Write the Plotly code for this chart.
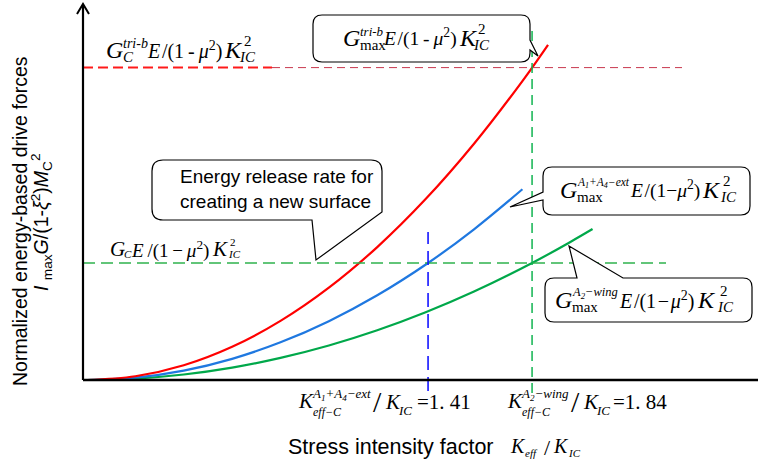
import plotly.graph_objects as go

# ---- curves: normalized energy-based drive force vs K_eff/K_IC ----
k_tri_b = [0.0, 0.2, 0.4, 0.6, 0.8, 1.0, 1.2, 1.4, 1.6, 1.8, 1.906]
g_tri_b = [0.0, 0.032, 0.126, 0.284, 0.505, 0.789, 1.136, 1.546, 2.019, 2.555, 2.865]

k_ext = [0.0, 0.2, 0.4, 0.6, 0.8, 1.0, 1.2, 1.41, 1.6, 1.8]
g_ext = [0.0, 0.020, 0.080, 0.181, 0.322, 0.503, 0.724, 1.0, 1.288, 1.630]

k_wing = [0.0, 0.2, 0.4, 0.6, 0.8, 1.0, 1.2, 1.4, 1.6, 1.84, 2.0, 2.09]
g_wing = [0.0, 0.012, 0.047, 0.106, 0.189, 0.295, 0.425, 0.579, 0.756, 1.0, 1.182, 1.29]

# reference levels and critical stress intensity ratios
G_C_LEVEL = 1.0
G_TRI_B_LEVEL = 2.67
K_EXT_C = 1.41
K_WING_C = 1.84
K_EXT_LABEL = "1. 41"
K_WING_LABEL = "1. 84"

# ---- page geometry (pixels) ----
W, H = 758, 469
PL, PR, PT, PB = 83, 758, 5, 380
X_RANGE = [-0.0165, 2.774]
Y_RANGE = [0.0, 3.205]

SERIF = "Liberation Serif"
SANS = "Liberation Sans"

MID_HYPHEN = "<i>E</i>\u200a/(1\u2009-\u2009<i>μ</i><sup>2</sup>)"
MID_MINUS = "<i>E</i>\u200a/(1\u2212<i>μ</i><sup>2</sup>)"


def fx(px):
    return (px - PL) / (PR - PL)


def fy(py):
    return (PB - py) / (PB - PT)


def pt(p):
    return f"{fx(p[0]):.5f},{fy(p[1]):.5f}"


annotations = []
shapes = []


def txt(s, px, py, size, family=SERIF, xanchor="left", yanchor="middle",
        angle=0, align="left", color="black"):
    annotations.append(dict(
        text=s, x=fx(px), y=fy(py), xref="paper", yref="paper",
        showarrow=False, xanchor=xanchor, yanchor=yanchor, align=align,
        textangle=angle, borderpad=0,
        font=dict(family=family, size=size, color=color)))


def poly(points, width=1.2, color="black"):
    d = "M " + " L ".join(pt(p) for p in points)
    shapes.append(dict(type="path", path=d, xref="paper", yref="paper",
                       line=dict(color=color, width=width),
                       fillcolor="rgba(0,0,0,0)", layer="above"))


def callout(x0, y0, x1, y1, side, base_a, base_b, tip, r=9, width=1.2):
    """Rounded box with a wedge-shaped pointer, traced clockwise on screen.

    side: 'top' (base x's, left->right), 'right' (base y's, top->bottom),
          'bottom' (base x's, right->left), 'left' (base y's, bottom->top),
          'right-bottom' (base_a = y on right edge, base_b = x on bottom edge).
    """
    segs = [f"M {pt((x0 + r, y0))}"]
    if side == "top":
        segs += [f"L {pt((base_a, y0))}", f"L {pt(tip)}", f"L {pt((base_b, y0))}"]
    segs += [f"L {pt((x1 - r, y0))}", f"Q {pt((x1, y0))} {pt((x1, y0 + r))}"]
    if side == "right":
        segs += [f"L {pt((x1, base_a))}", f"L {pt(tip)}", f"L {pt((x1, base_b))}"]
    if side == "right-bottom":
        segs += [f"L {pt((x1, base_a))}", f"L {pt(tip)}", f"L {pt((base_b, y1))}"]
    else:
        segs += [f"L {pt((x1, y1 - r))}", f"Q {pt((x1, y1))} {pt((x1 - r, y1))}"]
        if side == "bottom":
            segs += [f"L {pt((base_a, y1))}", f"L {pt(tip)}", f"L {pt((base_b, y1))}"]
    segs += [f"L {pt((x0 + r, y1))}", f"Q {pt((x0, y1))} {pt((x0, y1 - r))}"]
    if side == "left":
        segs += [f"L {pt((x0, base_a))}", f"L {pt(tip)}", f"L {pt((x0, base_b))}"]
    segs += [f"L {pt((x0, y0 + r))}", f"Q {pt((x0, y0))} {pt((x0 + r, y0))}", "Z"]
    shapes.append(dict(type="path", path=" ".join(segs), xref="paper", yref="paper",
                       line=dict(color="black", width=width),
                       fillcolor="white", layer="above"))


def energy_ratio(px, py, sup, sub, mid_x, k_x, k2_x, ic_x, size=24, small=15,
                 sup_size=None, mid=MID_HYPHEN, mid_size=20, sub_italic=False,
                 gap=7, sub_dx=17):
    """G^sup_sub E/(1-mu^2) K_IC^2 assembled from stacked pieces."""
    txt("<i>G</i>", px, py, size)
    if sup:
        txt(f"<i>{sup}</i>", px + sub_dx, py - gap, sup_size or small)
    txt(f"<i>{sub}</i>" if sub_italic else sub, px + sub_dx, py + gap, small)
    txt(mid, mid_x, py, mid_size)
    txt("<i>K</i>", k_x, py, size)
    txt("2", k2_x, py - gap - 2, small)
    txt("<i>IC</i>", ic_x, py + gap, small)


fig = go.Figure()

# ---- dashed guide lines ----
shapes.append(dict(type="line", xref="paper", yref="y", x0=0, x1=fx(272),
                   y0=G_TRI_B_LEVEL, y1=G_TRI_B_LEVEL,
                   line=dict(color="#ff1a1a", width=2, dash="10px,5px")))
shapes.append(dict(type="line", xref="paper", yref="y", x0=fx(272), x1=fx(682),
                   y0=G_TRI_B_LEVEL, y1=G_TRI_B_LEVEL,
                   line=dict(color="#c8384e", width=1, dash="8px,5px")))
shapes.append(dict(type="line", xref="paper", yref="y", x0=0, x1=fx(666),
                   y0=G_C_LEVEL, y1=G_C_LEVEL,
                   line=dict(color="#2fb24e", width=1.5, dash="12px,6px")))
shapes.append(dict(type="line", xref="x", yref="paper", x0=K_EXT_C, x1=K_EXT_C,
                   y0=fy(391), y1=fy(232),
                   line=dict(color="#1515ff", width=1.6, dash="14px,7px")))
shapes.append(dict(type="line", xref="x", yref="paper", x0=K_WING_C, x1=K_WING_C,
                   y0=fy(393), y1=fy(30),
                   line=dict(color="#10b450", width=1.5, dash="10px,6px")))

# ---- curves ----
fig.add_trace(go.Scatter(x=k_wing, y=g_wing, mode="lines",
                         line=dict(color="#00a84a", width=2.2, shape="spline"),
                         cliponaxis=False, hoverinfo="skip"))
fig.add_trace(go.Scatter(x=k_ext, y=g_ext, mode="lines",
                         line=dict(color="#1f78e0", width=2.2, shape="spline"),
                         cliponaxis=False, hoverinfo="skip"))
fig.add_trace(go.Scatter(x=k_tri_b, y=g_tri_b, mode="lines",
                         line=dict(color="#ff0000", width=2.2, shape="spline"),
                         cliponaxis=False, hoverinfo="skip"))

# ---- axes with arrow ----
shapes.append(dict(type="line", xref="paper", yref="paper", x0=0, x1=1,
                   y0=0, y1=0, line=dict(color="black", width=2.6), layer="above"))
shapes.append(dict(type="line", xref="paper", yref="paper", x0=0, x1=0,
                   y0=0, y1=fy(5), line=dict(color="black", width=2.2), layer="above"))
poly([(77, 14), (83, 4), (89, 14)], width=2)

# ---- plain labels ----
energy_ratio(105, 50, "tri-b", "C", sub_italic=True, sup_size=14,
             mid_x=146, k_x=223, k2_x=243, ic_x=238)
energy_ratio(109, 249, "", "C", size=21, small=11, sub_italic=True, sub_dx=14,
             mid_x=130, k_x=211, k2_x=229, ic_x=227, mid_size=19, gap=5,
             mid="<i>E</i>\u2009/(1\u2009\u2212\u2009<i>μ</i><sup>2</sup>)")

# ---- callout: G_max^tri-b ----
callout(313, 15, 530, 62, "right", 40, 50, (538, 56))
energy_ratio(342, 38, "tri-b", "max", sup_size=13, mid_x=382, k_x=458,
             k2_x=477, ic_x=472, mid_size=19.5)

# ---- callout: G_max^(A1+A4-ext) ----
callout(543, 167, 750, 215, "left", 200, 192, (510, 207))
energy_ratio(559, 190, "A<sub>1</sub>+A<sub>4</sub>\u2212ext", "max",
             sup_size=11.5, mid_x=629, k_x=701, k2_x=722, ic_x=719,
             mid=MID_MINUS, mid_size=19.5)

# ---- callout: G_max^(A2-wing) ----
callout(545, 278, 752, 322, "top", 577, 623, (569, 246))
energy_ratio(554, 300, "A<sub>2</sub>\u2212wing", "max", sup_size=12.5,
             mid_x=618, k_x=696, k2_x=719, ic_x=716,
             mid="<i>E</i>\u200a/(1\u200a\u2212\u200a<i>μ</i><sup>2</sup>)",
             mid_size=20)

# ---- callout: new surface energy ----
callout(152, 160, 382, 220, "right-bottom", 212, 312, (316, 260), r=11)
txt("Energy release rate for<br>creating a new surface", 179, 189, 19,
    family=SANS)

# ---- critical K labels on the abscissa ----
for kx, sup, val in [(297, "A<sub>1</sub>+A<sub>4</sub>\u2212ext", K_EXT_LABEL),
                     (506, "A<sub>2</sub>\u2212wing", K_WING_LABEL)]:
    off = 0 if kx == 297 else -2
    txt("<i>K</i>", kx, 401, 21)
    txt(f"<i>{sup}</i>", kx + 14, 394, 13)
    txt("<i>eff\u2212C</i>", kx + 15, 412, 12)
    slash_x = kx + 75 if kx == 297 else kx + 64
    txt("/", slash_x, 401, 30)
    txt("<i>K</i>", slash_x + 12, 402, 21)
    txt("<i>IC</i>", slash_x + 25, 410, 13)
    txt("=" + val, slash_x + 44 + off, 402, 21)

# ---- axis titles ----
txt("Stress intensity factor", 287, 447, 21.5, family=SANS)
txt("<i>K</i>", 509, 446, 20)
txt("<i>eff</i>", 524, 453, 11)
txt("/", 543, 447, 22)
txt("<i>K</i>", 552, 446, 20)
txt("<i>IC</i>", 567, 453, 11)

txt("Normalized energy-based drive forces", 20, 221, 19.5, family=SANS,
    xanchor="center", angle=-90)
txt("<i>I</i> <sub>max</sub><i>G</i>/(1-<i>ξ</i><sup>2</sup>)<i>M</i><sub>C</sub><sup>2</sup>",
    41, 222, 19.5, family=SANS, xanchor="center", angle=-90)

fig.update_layout(
    width=W, height=H,
    margin=dict(l=PL, r=W - PR, t=PT, b=H - PB),
    paper_bgcolor="white", plot_bgcolor="white",
    showlegend=False,
    xaxis=dict(range=X_RANGE, visible=False, fixedrange=True),
    yaxis=dict(range=Y_RANGE, visible=False, fixedrange=True),
    shapes=shapes, annotations=annotations,
)

fig.write_html("out.html")
